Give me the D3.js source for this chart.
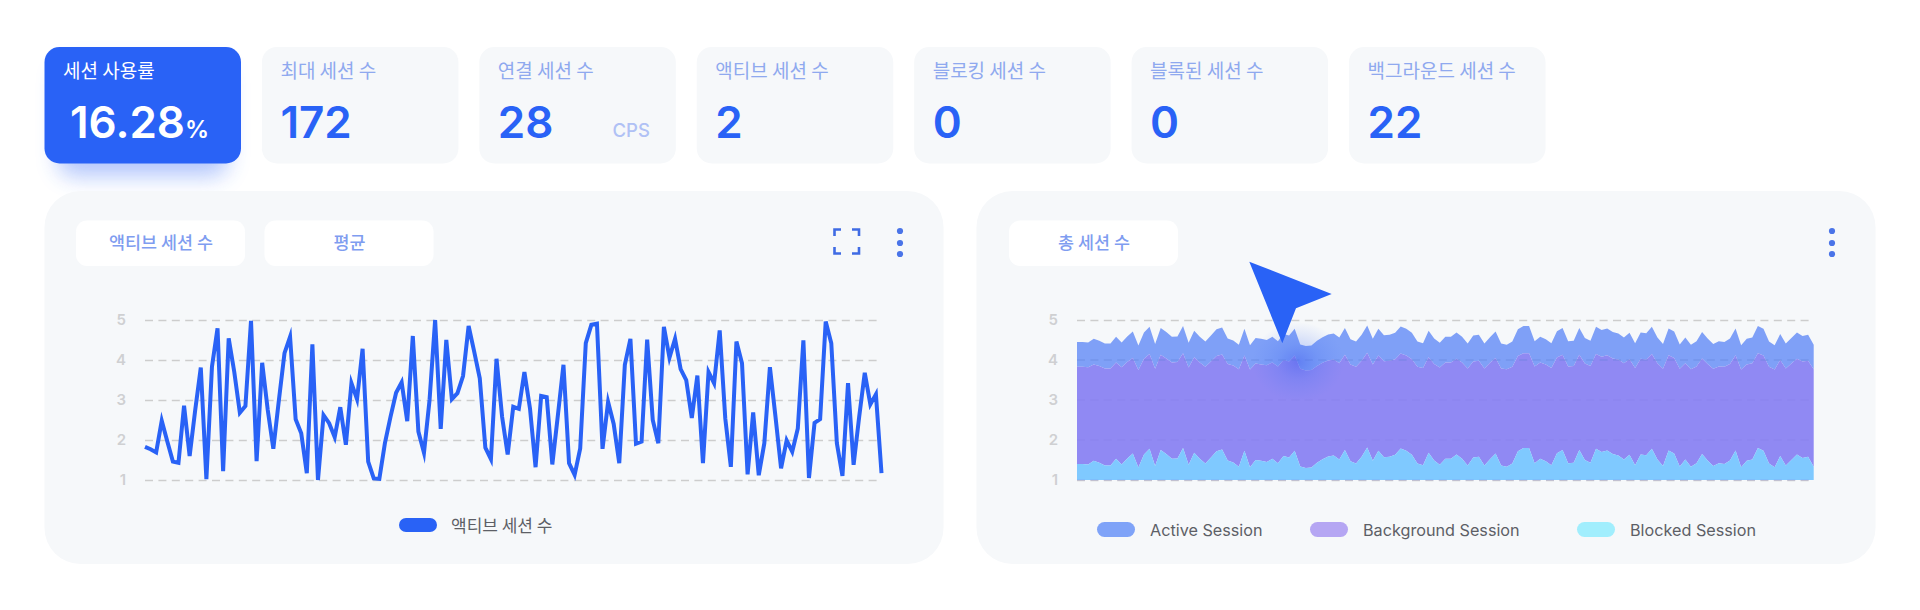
<!DOCTYPE html>
<html><head><meta charset="utf-8">
<script src="https://cdn.jsdelivr.net/npm/d3@7/dist/d3.min.js"></script>
<style>
html,body{margin:0;padding:0;background:#fff;overflow:hidden}
svg{display:block}
text{font-family:Inter,"Noto Sans CJK KR","Noto Sans",sans-serif}
.ko{font-family:"Noto Sans CJK KR",Inter,sans-serif}
</style></head><body>
<svg id="c" width="1920" height="610"></svg>
<script>
const cardTitles=["세션 사용률","최대 세션 수","연결 세션 수","액티브 세션 수","블로킹 세션 수","블록된 세션 수","백그라운드 세션 수"];
const cardValues=["16.28","172","28","2","0","0","22"];
const yTicks=[1,2,3,4,5];
const activeLineLabel="액티브 세션 수";
const areaLabels=["Active Session","Background Session","Blocked Session"];
const activeLine=[1.83,1.77,1.69,2.48,1.96,1.46,1.43,2.86,1.6,2.75,3.81,1.02,3.83,4.79,1.22,4.54,3.7,2.68,2.85,4.98,1.47,3.93,2.75,1.78,3.0,4.17,4.58,2.52,2.17,1.17,4.39,1.0,2.62,2.42,2.07,2.82,1.88,3.42,3.02,4.28,1.46,1.04,1.03,1.92,2.58,3.18,3.44,2.47,4.6,2.21,1.68,3.0,5.0,2.28,4.5,3.02,3.17,3.6,4.85,4.21,3.54,1.81,1.52,4.03,2.58,1.64,2.83,2.78,3.7,2.79,1.32,3.1,3.07,1.39,2.62,3.88,1.42,1.13,1.79,4.42,4.88,4.91,1.78,2.95,2.4,1.42,3.88,4.53,1.91,1.96,4.51,2.5,1.92,4.83,4.06,4.53,3.77,3.5,2.55,3.61,1.42,3.7,3.42,4.74,2.54,1.33,4.46,3.92,1.14,2.69,1.12,1.92,3.82,2.58,1.29,1.99,1.71,2.29,4.49,1.05,2.43,2.52,4.96,4.42,1.92,1.1,3.42,1.38,2.58,3.68,2.89,3.14,1.17];
const activeTop=[4.45,4.45,4.44,4.53,4.48,4.41,4.41,4.58,4.44,4.59,4.71,4.36,4.69,4.83,4.40,4.80,4.70,4.58,4.59,4.85,4.43,4.73,4.58,4.46,4.61,4.77,4.81,4.54,4.49,4.38,4.78,4.37,4.55,4.53,4.50,4.58,4.47,4.65,4.61,4.78,4.39,4.35,4.36,4.48,4.57,4.64,4.66,4.56,4.80,4.52,4.46,4.63,4.86,4.53,4.78,4.62,4.63,4.68,4.84,4.78,4.68,4.46,4.42,4.73,4.54,4.43,4.58,4.58,4.69,4.58,4.41,4.61,4.63,4.41,4.57,4.71,4.41,4.38,4.46,4.77,4.85,4.85,4.47,4.58,4.52,4.42,4.72,4.80,4.47,4.48,4.80,4.55,4.48,4.83,4.75,4.79,4.70,4.66,4.56,4.68,4.42,4.69,4.67,4.83,4.56,4.40,4.79,4.71,4.39,4.56,4.38,4.47,4.70,4.54,4.40,4.47,4.45,4.54,4.79,4.37,4.53,4.56,4.85,4.78,4.46,4.37,4.65,4.41,4.55,4.69,4.60,4.63,4.38];
const backgroundTop=[3.83,3.83,3.82,3.89,3.85,3.79,3.79,3.94,3.82,3.95,4.05,3.75,4.03,4.15,3.78,4.13,4.04,3.94,3.95,4.17,3.81,4.07,3.94,3.83,3.96,4.10,4.14,3.90,3.86,3.77,4.11,3.76,3.91,3.89,3.87,3.94,3.84,4.00,3.96,4.11,3.78,3.74,3.75,3.85,3.93,3.99,4.01,3.92,4.13,3.89,3.83,3.98,4.18,3.89,4.11,3.97,3.98,4.02,4.16,4.11,4.02,3.83,3.80,4.07,3.90,3.81,3.94,3.94,4.03,3.94,3.79,3.96,3.98,3.79,3.93,4.05,3.79,3.77,3.83,4.10,4.17,4.17,3.84,3.94,3.89,3.80,4.06,4.13,3.84,3.85,4.13,3.91,3.85,4.15,4.08,4.12,4.04,4.01,3.92,4.02,3.80,4.03,4.01,4.15,3.92,3.78,4.12,4.05,3.78,3.92,3.77,3.84,4.04,3.90,3.78,3.84,3.83,3.90,4.12,3.76,3.89,3.92,4.17,4.11,3.83,3.76,4.00,3.79,3.91,4.03,3.96,3.98,3.77];
const blockedTop=[1.40,1.40,1.39,1.48,1.43,1.36,1.36,1.53,1.39,1.54,1.66,1.31,1.64,1.78,1.35,1.75,1.65,1.53,1.54,1.80,1.38,1.68,1.53,1.41,1.56,1.72,1.76,1.49,1.44,1.33,1.73,1.32,1.50,1.48,1.45,1.53,1.42,1.60,1.56,1.73,1.34,1.30,1.31,1.43,1.52,1.59,1.61,1.51,1.75,1.47,1.41,1.58,1.81,1.48,1.73,1.57,1.58,1.63,1.79,1.73,1.63,1.41,1.37,1.68,1.49,1.38,1.53,1.53,1.64,1.53,1.36,1.56,1.58,1.36,1.52,1.66,1.36,1.33,1.41,1.72,1.80,1.80,1.42,1.53,1.47,1.37,1.67,1.75,1.42,1.43,1.75,1.50,1.43,1.78,1.70,1.74,1.65,1.61,1.51,1.63,1.37,1.64,1.62,1.78,1.51,1.35,1.74,1.66,1.34,1.51,1.33,1.42,1.65,1.49,1.35,1.42,1.40,1.49,1.74,1.32,1.48,1.51,1.80,1.73,1.41,1.32,1.60,1.36,1.50,1.64,1.55,1.58,1.33];

const BLUE="#2962f6",PANEL="#f6f8fa",SOFT="#7f9df0";
const svg=d3.select("#c");
const defs=svg.append("defs");
const f=defs.append("filter").attr("id","sh").attr("x","-30%").attr("y","-30%").attr("width","160%").attr("height","180%");
f.append("feGaussianBlur").attr("stdDeviation",11);
const g0=defs.append("radialGradient").attr("id","glow");
g0.append("stop").attr("offset","0%").attr("stop-color","#4560ee").attr("stop-opacity",.5);
g0.append("stop").attr("offset","45%").attr("stop-color","#4a72f2").attr("stop-opacity",.22);
g0.append("stop").attr("offset","100%").attr("stop-color","#5a80f4").attr("stop-opacity",0);

// stat cards
const cardX=d3.scaleLinear().domain([0,6]).range([44.5,1349]);
svg.append("rect").attr("x",58).attr("y",64).attr("width",170).attr("height",112).attr("rx",16).attr("fill",BLUE).attr("opacity",.36).attr("filter","url(#sh)");
cardTitles.forEach((t,i)=>{
  const x=cardX(i),first=i===0;
  svg.append("rect").attr("x",x).attr("y",47).attr("width",196.5).attr("height",116.5).attr("rx",15).attr("fill",first?BLUE:PANEL);
  svg.append("text").attr("class","ko").attr("x",x+18.5).attr("y",78).attr("font-size",19).attr("fill",first?"#fff":"#8fa9ef").text(t);
  const v=svg.append("text").attr("x",x+(first?25.5:18.5)).attr("y",138).attr("font-size",44).attr("font-weight",600).attr("fill",first?"#fff":BLUE).text(cardValues[i]);
  if(first) v.append("tspan").attr("font-size",24).attr("dx",0).text("%");
  if(i===2) svg.append("text").attr("x",x+170.5).attr("y",137).attr("text-anchor","end").attr("font-size",18.5).attr("font-weight",500).attr("fill","#b0c1f5").text("CPS");
});

// panels
function panel(x,tabs,tabX){
  svg.append("rect").attr("x",x).attr("y",191).attr("width",899).attr("height",373).attr("rx",36).attr("fill",PANEL);
  tabs.forEach((t,i)=>{
    const tx=tabX[i];
    svg.append("rect").attr("x",tx).attr("y",220.5).attr("width",169).attr("height",45.5).attr("rx",11).attr("fill","#fff");
    svg.append("text").attr("class","ko").attr("x",tx+85).attr("y",249).attr("text-anchor","middle").attr("font-size",17.4).attr("font-weight",500).attr("fill",SOFT).text(t);
  });
}
panel(44.5,[activeLineLabel,"평균"],[76,264.5]);
panel(976.5,["총 세션 수"],[1009]);

// icons
[900,1832].forEach(cx=>[231,243,254].forEach(cy=>svg.append("circle").attr("cx",cx).attr("cy",cy).attr("r",3.1).attr("fill","#4a74e8")));
svg.append("path").attr("fill","none").attr("stroke","#3f6be4").attr("stroke-width",2.6)
  .attr("d","M834.5 236V229.5H841M852 229.5H859V236M834.5 247V253.5H841M852 253.5H859V247");

const y=d3.scaleLinear().domain([1,5]).range([480,320]);
function axis(x0,x1){
  const g=svg.append("g").attr("transform",`translate(${x0},0)`).call(d3.axisLeft(y).tickValues(yTicks).tickFormat(d3.format("d")).tickSize(0).tickPadding(19));
  g.select(".domain").remove();
  g.selectAll("text").attr("font-size",15).attr("font-weight",600).attr("fill","#cfd0d2").attr("font-family","Inter,sans-serif");
  g.selectAll(".tick").append("line").attr("x2",x1-x0).attr("stroke","#cdcdcd").attr("stroke-width",1.5).attr("stroke-dasharray","8 5.4");
}

// left chart
const xL=d3.scaleLinear().domain([0,132]).range([145,881.5]);
axis(145,881.5);
svg.append("path").datum(activeLine).attr("fill","none").attr("stroke",BLUE).attr("stroke-width",4).attr("stroke-linejoin","miter").attr("stroke-miterlimit",6)
  .attr("d",d3.line().x((d,i)=>xL(i)).y(d=>y(d)));
svg.append("rect").attr("x",399).attr("y",518).attr("width",38).attr("height",14).attr("rx",7).attr("fill",BLUE);
svg.append("text").attr("class","ko").attr("x",451).attr("y",532).attr("font-size",17).attr("fill","#5d5f66").text(activeLineLabel);

// right chart
const xR=d3.scaleLinear().domain([0,132]).range([1077,1813.7]);
axis(1077,1813.7);
const layers=[[backgroundTop,activeTop,"#7fa0f7"],[blockedTop,backgroundTop,"#9089f3"],[blockedTop.map(()=>1),blockedTop,"#7fc9ff"]];
layers.forEach(([lo,hi,col])=>{
  svg.append("path").datum(hi).attr("fill",col)
    .attr("d",d3.area().x((d,i)=>xR(i)).y0((d,i)=>y(lo[i])).y1(d=>y(d)));
});
yTicks.slice(0,4).forEach(v=>{
  svg.append("line").attr("x1",1077).attr("x2",1813.7).attr("y1",y(v)).attr("y2",y(v)).attr("stroke",v===4?"#5f7fd8":"#7d76e0").attr("stroke-opacity",v===4?.55:.3).attr("stroke-width",1.2).attr("stroke-dasharray","8 5.4");
});
const lg=[[1097,1150,"#7fa3f8"],[1310,1363,"#b5a6f3"],[1577,1630,"#a1eefd"]];
lg.forEach(([a,b,c],i)=>{
  svg.append("rect").attr("x",a).attr("y",522).attr("width",38).attr("height",15).attr("rx",7.5).attr("fill",c);
  svg.append("text").attr("x",b).attr("y",536).attr("font-size",16.2).attr("fill","#5d5f66").text(areaLabels[i]);
});

// cursor with glow
svg.append("ellipse").attr("cx",1298).attr("cy",362).attr("rx",46).attr("ry",40).attr("fill","url(#glow)");
svg.append("polygon").attr("points","1249.3,261.7 1331.7,294 1296,308.3 1282.3,343.3").attr("fill",BLUE);
</script>
</body></html>
